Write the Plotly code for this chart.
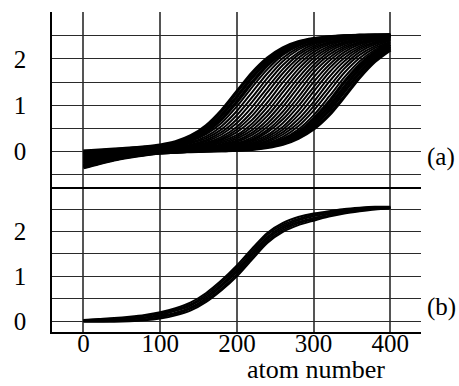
import plotly.graph_objects as go

# ---------------- data ----------------
atom_x = [0, 20, 40, 60, 80, 100, 120, 140, 160, 180, 200,
          220, 240, 260, 280, 300, 320, 340, 360, 380, 400]

# panel (a): family of transition profiles (earliest to latest)
a_curve_00 = [0.00, 0.02, 0.04, 0.06, 0.09, 0.13, 0.20, 0.33, 0.55, 0.88, 1.29, 1.70, 2.02, 2.24, 2.37, 2.44, 2.48, 2.50, 2.51, 2.52, 2.52]
a_curve_01 = [-0.01, 0.00, 0.03, 0.05, 0.08, 0.11, 0.17, 0.29, 0.48, 0.78, 1.18, 1.60, 1.95, 2.20, 2.35, 2.43, 2.47, 2.50, 2.51, 2.51, 2.52]
a_curve_02 = [-0.03, -0.01, 0.02, 0.04, 0.07, 0.10, 0.15, 0.25, 0.42, 0.69, 1.07, 1.49, 1.87, 2.14, 2.32, 2.41, 2.47, 2.49, 2.51, 2.51, 2.52]
a_curve_03 = [-0.04, -0.02, 0.01, 0.03, 0.06, 0.09, 0.13, 0.22, 0.37, 0.61, 0.97, 1.39, 1.78, 2.09, 2.28, 2.40, 2.46, 2.49, 2.50, 2.51, 2.52]
a_curve_04 = [-0.05, -0.03, 0.00, 0.03, 0.05, 0.08, 0.12, 0.19, 0.32, 0.54, 0.87, 1.28, 1.69, 2.02, 2.24, 2.37, 2.44, 2.48, 2.50, 2.51, 2.52]
a_curve_05 = [-0.06, -0.04, -0.01, 0.02, 0.05, 0.07, 0.10, 0.17, 0.28, 0.47, 0.78, 1.17, 1.59, 1.95, 2.20, 2.35, 2.43, 2.47, 2.50, 2.51, 2.51]
a_curve_06 = [-0.08, -0.05, -0.02, 0.01, 0.04, 0.06, 0.09, 0.14, 0.24, 0.41, 0.69, 1.07, 1.49, 1.87, 2.14, 2.32, 2.41, 2.47, 2.49, 2.51, 2.51]
a_curve_07 = [-0.09, -0.06, -0.02, 0.01, 0.03, 0.05, 0.08, 0.13, 0.21, 0.36, 0.61, 0.96, 1.38, 1.78, 2.09, 2.28, 2.40, 2.46, 2.49, 2.50, 2.51]
a_curve_08 = [-0.10, -0.07, -0.03, 0.00, 0.03, 0.05, 0.07, 0.11, 0.18, 0.31, 0.53, 0.86, 1.28, 1.69, 2.02, 2.24, 2.37, 2.44, 2.48, 2.50, 2.51]
a_curve_09 = [-0.11, -0.08, -0.04, -0.01, 0.02, 0.04, 0.06, 0.10, 0.16, 0.27, 0.47, 0.77, 1.17, 1.59, 1.95, 2.20, 2.35, 2.43, 2.47, 2.50, 2.51]
a_curve_10 = [-0.13, -0.09, -0.05, -0.01, 0.01, 0.03, 0.05, 0.08, 0.14, 0.24, 0.41, 0.68, 1.06, 1.49, 1.87, 2.15, 2.32, 2.41, 2.47, 2.49, 2.51]
a_curve_11 = [-0.14, -0.10, -0.06, -0.02, 0.01, 0.03, 0.05, 0.08, 0.12, 0.21, 0.35, 0.60, 0.96, 1.38, 1.78, 2.09, 2.28, 2.40, 2.46, 2.49, 2.50]
a_curve_12 = [-0.15, -0.11, -0.06, -0.03, 0.00, 0.02, 0.04, 0.07, 0.11, 0.18, 0.31, 0.53, 0.86, 1.28, 1.69, 2.02, 2.24, 2.37, 2.44, 2.48, 2.50]
a_curve_13 = [-0.16, -0.12, -0.07, -0.03, 0.00, 0.02, 0.04, 0.06, 0.09, 0.15, 0.27, 0.46, 0.77, 1.17, 1.59, 1.95, 2.20, 2.35, 2.43, 2.47, 2.50]
a_curve_14 = [-0.17, -0.13, -0.08, -0.04, -0.01, 0.01, 0.03, 0.05, 0.08, 0.13, 0.23, 0.40, 0.68, 1.06, 1.49, 1.87, 2.15, 2.32, 2.41, 2.47, 2.49]
a_curve_15 = [-0.19, -0.13, -0.09, -0.05, -0.01, 0.01, 0.03, 0.04, 0.07, 0.12, 0.20, 0.35, 0.60, 0.96, 1.39, 1.79, 2.09, 2.28, 2.40, 2.46, 2.49]
a_curve_16 = [-0.20, -0.14, -0.09, -0.05, -0.02, 0.01, 0.02, 0.04, 0.06, 0.10, 0.17, 0.30, 0.53, 0.86, 1.28, 1.70, 2.02, 2.24, 2.37, 2.44, 2.48]
a_curve_17 = [-0.21, -0.15, -0.10, -0.06, -0.02, 0.00, 0.02, 0.03, 0.05, 0.09, 0.15, 0.26, 0.46, 0.77, 1.17, 1.60, 1.95, 2.20, 2.35, 2.43, 2.47]
a_curve_18 = [-0.22, -0.16, -0.11, -0.06, -0.03, 0.00, 0.01, 0.03, 0.05, 0.07, 0.13, 0.23, 0.41, 0.69, 1.07, 1.50, 1.87, 2.15, 2.32, 2.41, 2.47]
a_curve_19 = [-0.24, -0.17, -0.12, -0.07, -0.03, -0.01, 0.01, 0.03, 0.04, 0.07, 0.11, 0.20, 0.35, 0.61, 0.97, 1.39, 1.79, 2.09, 2.28, 2.40, 2.46]
a_curve_20 = [-0.25, -0.18, -0.12, -0.07, -0.04, -0.01, 0.01, 0.02, 0.04, 0.06, 0.09, 0.17, 0.31, 0.53, 0.87, 1.29, 1.70, 2.02, 2.24, 2.37, 2.44]
a_curve_21 = [-0.26, -0.19, -0.13, -0.08, -0.04, -0.02, 0.00, 0.02, 0.03, 0.05, 0.08, 0.15, 0.27, 0.47, 0.78, 1.18, 1.60, 1.95, 2.20, 2.35, 2.43]
a_curve_22 = [-0.27, -0.20, -0.14, -0.09, -0.04, -0.02, 0.00, 0.02, 0.03, 0.04, 0.07, 0.13, 0.23, 0.41, 0.69, 1.07, 1.50, 1.87, 2.15, 2.32, 2.41]
a_curve_23 = [-0.29, -0.21, -0.15, -0.09, -0.05, -0.02, 0.00, 0.01, 0.02, 0.04, 0.06, 0.11, 0.20, 0.36, 0.61, 0.97, 1.39, 1.79, 2.09, 2.28, 2.40]
a_curve_24 = [-0.30, -0.22, -0.15, -0.10, -0.05, -0.02, -0.01, 0.01, 0.02, 0.03, 0.05, 0.09, 0.17, 0.31, 0.54, 0.88, 1.29, 1.70, 2.02, 2.24, 2.37]
a_curve_25 = [-0.31, -0.23, -0.16, -0.10, -0.06, -0.03, -0.01, 0.01, 0.02, 0.03, 0.04, 0.08, 0.15, 0.27, 0.47, 0.78, 1.18, 1.60, 1.95, 2.20, 2.35]
a_curve_26 = [-0.32, -0.24, -0.17, -0.11, -0.06, -0.03, -0.01, 0.00, 0.01, 0.02, 0.04, 0.07, 0.13, 0.24, 0.41, 0.70, 1.07, 1.50, 1.87, 2.15, 2.32]
a_curve_27 = [-0.34, -0.25, -0.18, -0.11, -0.07, -0.03, -0.02, 0.00, 0.01, 0.02, 0.03, 0.06, 0.11, 0.20, 0.36, 0.62, 0.97, 1.39, 1.79, 2.09, 2.28]
a_curve_28 = [-0.35, -0.26, -0.18, -0.12, -0.07, -0.04, -0.02, 0.00, 0.01, 0.01, 0.03, 0.05, 0.10, 0.18, 0.32, 0.55, 0.88, 1.29, 1.70, 2.02, 2.24]
a_curve_29 = [-0.36, -0.27, -0.19, -0.13, -0.08, -0.04, -0.02, -0.01, 0.00, 0.01, 0.02, 0.04, 0.08, 0.15, 0.28, 0.48, 0.78, 1.18, 1.60, 1.95, 2.20]

# panel (b): narrow bundle of profiles
b_curve_1 = [-0.01, -0.01, -0.01, 0.00, 0.02, 0.06, 0.13, 0.24, 0.43, 0.69, 1.00, 1.38, 1.75, 1.99, 2.14, 2.24, 2.33, 2.40, 2.45, 2.49, 2.51]
b_curve_2 = [0.00, 0.00, 0.01, 0.02, 0.04, 0.09, 0.16, 0.28, 0.47, 0.73, 1.05, 1.43, 1.79, 2.03, 2.18, 2.27, 2.35, 2.42, 2.47, 2.50, 2.52]
b_curve_3 = [0.01, 0.01, 0.02, 0.04, 0.07, 0.12, 0.19, 0.31, 0.51, 0.78, 1.10, 1.48, 1.84, 2.07, 2.21, 2.30, 2.38, 2.44, 2.48, 2.51, 2.53]
b_curve_4 = [0.01, 0.03, 0.04, 0.06, 0.09, 0.14, 0.23, 0.35, 0.55, 0.82, 1.14, 1.52, 1.88, 2.11, 2.25, 2.34, 2.40, 2.46, 2.50, 2.53, 2.53]
b_curve_5 = [0.02, 0.04, 0.05, 0.08, 0.12, 0.17, 0.26, 0.38, 0.59, 0.87, 1.19, 1.57, 1.93, 2.15, 2.28, 2.37, 2.43, 2.48, 2.51, 2.54, 2.54]
b_curve_6 = [0.03, 0.05, 0.07, 0.10, 0.14, 0.20, 0.29, 0.42, 0.63, 0.91, 1.24, 1.62, 1.97, 2.19, 2.32, 2.40, 2.45, 2.50, 2.53, 2.55, 2.55]

x_ticks = [0, 100, 200, 300, 400]
x_tick_text = ["0", "100", "200", "300", "400"]
ya_ticks = [-0.5, 0, 0.5, 1, 1.5, 2, 2.5]
ya_tick_text = ["", "0", "", "1", "", "2", ""]
yb_ticks = [0, 0.5, 1, 1.5, 2, 2.5]
yb_tick_text = ["0", "", "1", "", "2", ""]
x_label = "atom number"
panel_labels = ["(a)", "(b)"]

# ---------------- figure ----------------
panel_a = [a_curve_00, a_curve_01, a_curve_02, a_curve_03, a_curve_04, a_curve_05,
           a_curve_06, a_curve_07, a_curve_08, a_curve_09, a_curve_10, a_curve_11,
           a_curve_12, a_curve_13, a_curve_14, a_curve_15, a_curve_16, a_curve_17,
           a_curve_18, a_curve_19, a_curve_20, a_curve_21, a_curve_22, a_curve_23,
           a_curve_24, a_curve_25, a_curve_26, a_curve_27, a_curve_28, a_curve_29]
panel_b = [b_curve_1, b_curve_2, b_curve_3, b_curve_4, b_curve_5, b_curve_6]

FONT = "Liberation Serif"
fig = go.Figure()

n = len(panel_a)
for i, ys in enumerate(panel_a):
    w = 2.0
    if i < 3 or i >= n - 4:
        w = 3.4
    fig.add_trace(go.Scatter(x=atom_x, y=ys, mode="lines", xaxis="x2", yaxis="y2",
                             line=dict(color="black", width=w, shape="spline", smoothing=0.8),
                             showlegend=False, hoverinfo="skip"))

for ys in panel_b:
    fig.add_trace(go.Scatter(x=atom_x, y=ys, mode="lines", xaxis="x", yaxis="y",
                             line=dict(color="black", width=2.0, shape="spline", smoothing=0.8),
                             showlegend=False, hoverinfo="skip"))

split = 145 / 320
xr = [-41, 440]
grid_h = dict(showgrid=True, gridcolor="#2a2a2a", gridwidth=1.2)
common_x = dict(range=xr, tickvals=x_ticks, showgrid=True, gridcolor="#555555", gridwidth=1.5,
                zeroline=False, showline=True, linecolor="black", linewidth=1.6)

fig.update_layout(
    width=459, height=386,
    margin=dict(l=52, r=38, t=12, b=54),
    paper_bgcolor="white", plot_bgcolor="white",
    font=dict(family=FONT, size=24, color="black"),
    xaxis=dict(**common_x, anchor="y", ticktext=x_tick_text, ticks="",
               ticklabelstandoff=-12, tickfont=dict(family=FONT, size=25)),
    xaxis2=dict(**common_x, anchor="y2", matches="x", showticklabels=False),
    yaxis=dict(domain=[0, split], range=[-0.24, 2.99], tickvals=yb_ticks, ticktext=yb_tick_text,
               zeroline=False, showline=True, linecolor="black", linewidth=1.6,
               ticks="", ticklabelstandoff=19, tickfont=dict(family=FONT, size=25), **grid_h),
    yaxis2=dict(domain=[split, 1], range=[-0.78, 3.02], tickvals=ya_ticks, ticktext=ya_tick_text,
                zeroline=False, showline=True, linecolor="black", linewidth=1.6,
                ticks="", ticklabelstandoff=19, tickfont=dict(family=FONT, size=25), **grid_h),
    annotations=[
        dict(text=x_label, x=303, xref="x", y=-(386 - 332) / 320, yref="paper", showarrow=False,
             xanchor="center", yanchor="bottom", font=dict(family=FONT, size=26)),
        dict(text=panel_labels[0], x=(425 - 52) / 369, xref="paper", y=-0.13, yref="y2",
             showarrow=False, xanchor="left", yanchor="middle", font=dict(family=FONT, size=25)),
        dict(text=panel_labels[1], x=(425 - 52) / 369, xref="paper", y=0.31, yref="y",
             showarrow=False, xanchor="left", yanchor="middle", font=dict(family=FONT, size=25)),
    ],
)

fig.write_html("out.html")
